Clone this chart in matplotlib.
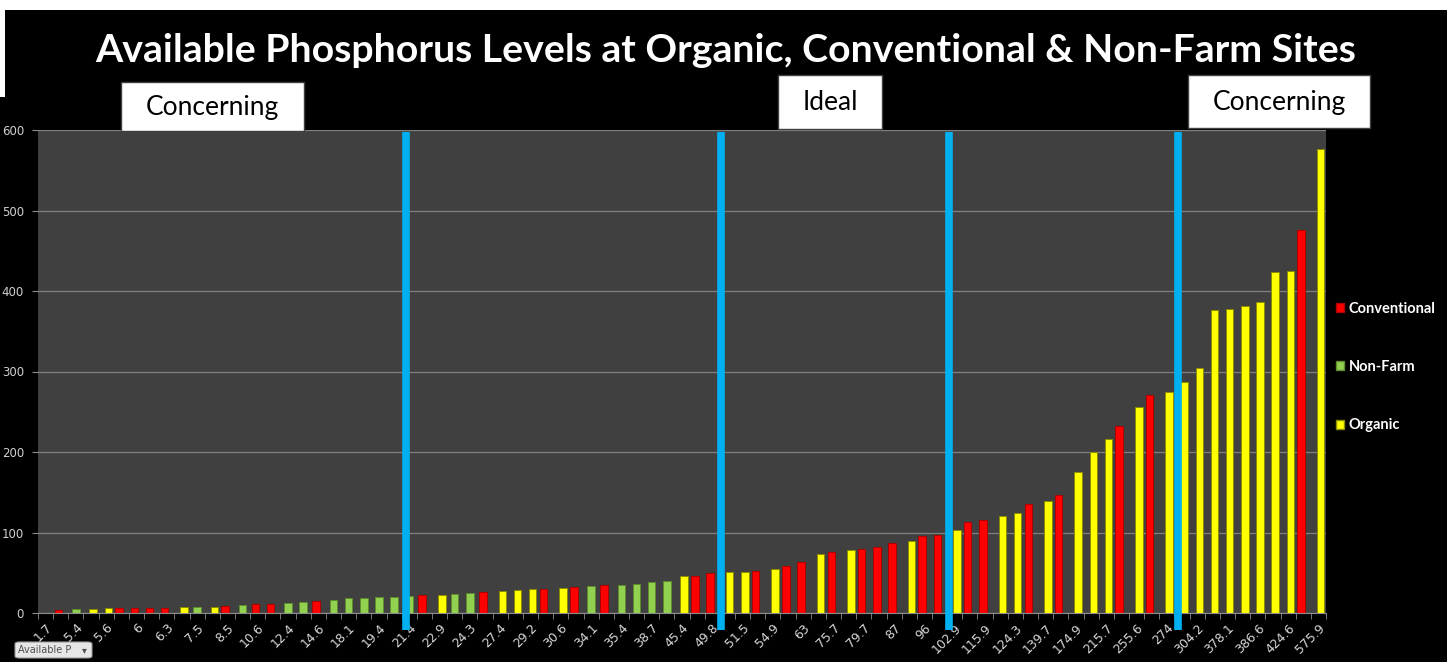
import numpy as np
import matplotlib
matplotlib.use('Agg')
import matplotlib.pyplot as plt
from matplotlib.patches import Rectangle, Patch, FancyBboxPatch

# --- data (sorted sites, one bar per category) ---
# C = Conventional, N = Non-Farm, O = Organic ; category 0 carries a label but no bar
p_values = [3.9, 5.4, 5.5, 5.6, 5.8, 6.0, 6.2, 6.3, 7.0, 7.5,
            8.0, 8.5, 9.5, 10.6, 11.0, 12.4, 13.8, 14.6, 16.0, 18.1,
            18.8, 19.4, 20.2, 21.4, 22.0, 22.9, 23.5, 24.3, 26.0, 27.4,
            28.0, 29.2, 30.0, 30.6, 32.0, 34.1, 34.3, 35.4, 36.5, 38.7,
            39.5, 45.4, 46.5, 49.8, 50.4, 51.5, 52.5, 54.9, 58.0, 63.0,
            73.5, 75.7, 78.5, 79.7, 81.5, 87.0, 89.0, 96.0, 97.5, 102.9,
            113.5, 115.9, 120.0, 124.3, 135.6, 139.7, 146.5, 174.9, 199.7, 215.7,
            232.4, 255.6, 270.4, 274.0, 286.5, 304.2, 376.4, 378.1, 381.6, 386.6,
            424.0, 424.6, 476.0, 575.9]
site_type = ['C', 'N', 'O', 'O', 'C', 'C', 'C', 'C', 'O', 'N',
             'O', 'C', 'N', 'C', 'C', 'N', 'N', 'C', 'N', 'N',
             'N', 'N', 'N', 'N', 'C', 'O', 'N', 'N', 'C', 'O',
             'O', 'O', 'C', 'O', 'C', 'N', 'C', 'N', 'N', 'N',
             'N', 'O', 'C', 'C', 'O', 'O', 'C', 'O', 'C', 'C',
             'O', 'C', 'O', 'C', 'C', 'C', 'O', 'C', 'C', 'O',
             'C', 'C', 'O', 'O', 'C', 'O', 'C', 'O', 'O', 'O',
             'C', 'O', 'C', 'O', 'O', 'O', 'O', 'O', 'O', 'O',
             'O', 'O', 'C', 'O']
tick_labels = ['1.7', '5.4', '5.6', '6', '6.3', '7.5', '8.5', '10.6', '12.4', '14.6',
               '18.1', '19.4', '21.4', '22.9', '24.3', '27.4', '29.2', '30.6', '34.1', '35.4',
               '38.7', '45.4', '49.8', '51.5', '54.9', '63', '75.7', '79.7', '87', '96',
               '102.9', '115.9', '124.3', '139.7', '174.9', '215.7', '255.6', '274', '304.2', '378.1',
               '386.6', '424.6', '575.9']
series = [('C', 'Conventional', '#FF0000', '#B00000', -0.145),
          ('N', 'Non-Farm', '#92D050', '#5E8C2E', 0.0),
          ('O', 'Organic', '#FFFF00', '#8C8C00', 0.145)]
zone_breaks = [23.8, 44.6, 59.6, 74.75]

W, H = 1452, 662
def fx(x): return x / W
def fy(y): return 1 - y / H

fig = plt.figure(figsize=(W / 100, H / 100), dpi=100, facecolor='white')
# black chart background + title block
fig.patches.append(Rectangle((0, 0), fx(1447), fy(97), transform=fig.transFigure,
                             facecolor='black', edgecolor='none', zorder=-5))
fig.patches.append(Rectangle((fx(5), fy(97)), fx(1447) - fx(5), (97 - 10) / H,
                             transform=fig.transFigure, facecolor='black',
                             edgecolor='none', zorder=-5))

ax = fig.add_axes([fx(38), fy(613), fx(1326) - fx(38), (613 - 130) / H])
ax.set_facecolor('#404040')

vals = np.array(p_values)
kinds = np.array(site_type)
pos = np.arange(1, len(vals) + 1)
handles = []
for code, name, fc, ec, off in series:
    m = kinds == code
    ax.bar(pos[m] + off, vals[m], width=0.5, color=fc, edgecolor=ec, linewidth=0.7, zorder=2)
    handles.append(Patch(facecolor=fc, edgecolor=ec, label=name))

for b in zone_breaks:
    ax.axvline(b, ymin=-0.035, ymax=0.996, color='#00B0F0', lw=5.5,
               solid_capstyle='butt', clip_on=False, zorder=5)

ax.set_xlim(-0.5, len(vals) + 0.5)
ax.set_ylim(0, 600)
ax.set_yticks(np.arange(0, 601, 100))
ax.yaxis.grid(True, color='#808080', lw=0.9)
ax.set_axisbelow(True)
for s in ['top', 'right', 'left']:
    ax.spines[s].set_visible(False)
ax.spines['bottom'].set_color('#8c8c8c')

ax.set_xticks(np.arange(0, len(vals) + 1, 2))
ax.set_xticklabels(tick_labels, rotation=45, ha='right', va='top',
                   rotation_mode='anchor', fontsize=9, color='#d9d9d9')
ax.set_xticks(np.arange(-0.5, len(vals) + 1, 1), minor=True)
ax.tick_params(axis='x', which='major', length=0, pad=6)
ax.tick_params(axis='x', which='minor', length=4, color='#8c8c8c')
ax.tick_params(axis='y', length=4, color='#8c8c8c', labelsize=8.5,
               labelcolor='#d0d0d0', pad=6)

# title and zone boxes
fig.text(fx(726), fy(51), 'Available Phosphorus Levels at Organic, Conventional & Non-Farm Sites',
         color='white', fontsize=28.3, fontweight='bold', family='Lato', ha='center', va='center')
for (x0, y0, x1, y1, txt) in [(121, 82, 304, 131, 'Concerning'),
                              (778, 75, 882, 129, 'Ideal'),
                              (1188, 75, 1370, 128, 'Concerning')]:
    fig.patches.append(Rectangle((fx(x0), fy(y1)), fx(x1) - fx(x0), (y1 - y0) / H,
                                 transform=fig.transFigure, facecolor='white',
                                 edgecolor='#404040', lw=1, zorder=3))
    fig.text(fx((x0 + x1) / 2), fy((y0 + y1) / 2 + 1), txt, color='black', fontsize=19,
             family='Lato', ha='center', va='center', zorder=4)

fig.legend(handles=handles, loc='center left', bbox_to_anchor=(fx(1323), fy(367)),
           frameon=False, labelcolor='white', prop=dict(weight='bold', size=10.5, family='Lato'),
           handlelength=0.55, handleheight=0.55, handletextpad=0.3, labelspacing=3.05)

# pivot field button
fig.patches.append(FancyBboxPatch((fx(15), fy(658)), fx(92) - fx(15), 16 / H,
                                  boxstyle='round,pad=0,rounding_size=0.003',
                                  transform=fig.transFigure, facecolor='#e6e6e6',
                                  edgecolor='#9a9a9a', lw=0.8, zorder=3))
fig.text(fx(18), fy(650), 'Available P', fontsize=7, color='#505050', family='DejaVu Sans',
         ha='left', va='center', zorder=4)
fig.text(fx(84), fy(650), '\u25BE', fontsize=7, color='#505050', family='DejaVu Sans',
         ha='center', va='center', zorder=4)

fig.savefig('out.png', dpi=100, facecolor=fig.get_facecolor())
